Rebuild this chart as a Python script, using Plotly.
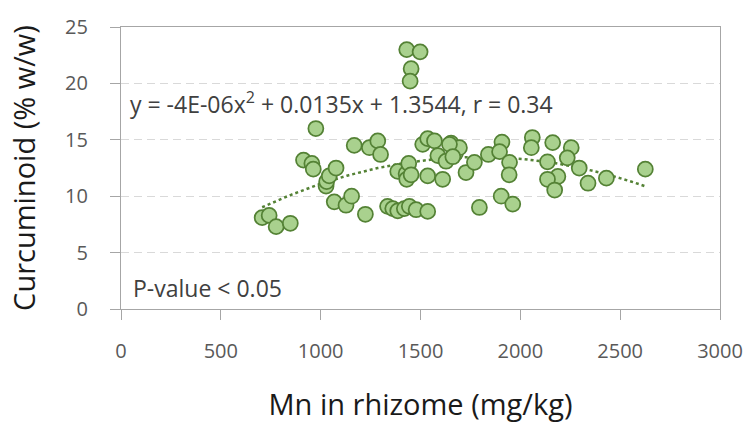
import numpy as np
import plotly.graph_objects as go

# Mn content in rhizome (mg/kg) and curcuminoid content (% w/w)
mn_rhizome = [707, 742, 777, 848, 914, 956, 963, 976, 1027, 1030, 1043, 1077, 1068,
              1127, 1155, 1168, 1224, 1244, 1286, 1300, 1335, 1361, 1386, 1419, 1444,
              1478, 1536, 1386, 1428, 1441, 1431, 1453, 1536, 1611, 1431, 1498, 1453,
              1448, 1511, 1536, 1570, 1587, 1628, 1653, 1675, 1695, 1728, 1770, 1795,
              1840, 1908, 1896, 1946, 1944, 1904, 1962, 2060, 2055, 2162, 2255, 2235,
              2136, 2295, 2188, 2136, 2172, 2339, 2431, 2626, 1645, 1662]
curcuminoid = [8.1, 8.3, 7.3, 7.6, 13.2, 12.9, 12.4, 16.0, 10.9, 11.3, 11.8, 12.5, 9.5,
               9.2, 10.0, 14.5, 8.4, 14.3, 14.9, 13.7, 9.1, 8.9, 8.7, 8.9, 9.1,
               8.8, 8.65, 12.2, 12.0, 12.9, 11.5, 11.9, 11.8, 11.5, 23.0, 22.8, 21.3,
               20.2, 14.6, 15.1, 14.9, 13.6, 13.1, 14.7, 13.8, 14.3, 12.1, 13.0, 9.0,
               13.7, 14.8, 13.95, 13.0, 11.9, 10.0, 9.3, 15.2, 14.3, 14.75, 14.3, 13.4,
               13.05, 12.5, 11.75, 11.5, 10.55, 11.15, 11.6, 12.4, 14.6, 13.5]

# Polynomial (order 2) trendline coefficients and correlation
trend_a = -3.76e-06
trend_b = 0.0135
trend_c = 1.3544
r_value = 0.34

x_ticks = [0, 500, 1000, 1500, 2000, 2500, 3000]
y_ticks = [0, 5, 10, 15, 20, 25]

FONT = "Open Sans"
fill_green = "#A9D18E"
edge_green = "#548235"
axis_gray = "#A6A6A6"

x_fit = np.linspace(min(mn_rhizome), max(mn_rhizome), 200)
y_fit = trend_a * x_fit ** 2 + trend_b * x_fit + trend_c

fig = go.Figure()
fig.add_trace(go.Scatter(
    x=x_fit, y=y_fit, mode="lines",
    line=dict(color=edge_green, width=2.5, dash="dot"),
    hoverinfo="skip", showlegend=False,
))
fig.add_trace(go.Scatter(
    x=mn_rhizome, y=curcuminoid, mode="markers",
    marker=dict(size=15, color=fill_green, line=dict(color=edge_green, width=1.75)),
    showlegend=False,
))

eq_text = (f"y = {trend_a:.0E}x<sup>2</sup> + {trend_b:.4f}x + {trend_c:.4f}, "
           f"r = {r_value:.2f}")

fig.add_annotation(
    x=0.012, y=18.3, xref="paper", yref="y", yanchor="middle", xanchor="left",
    text=eq_text, showarrow=False,
    font=dict(family=FONT, size=23, color="#404040"),
)
fig.add_annotation(
    x=0.016, y=1.86, xref="paper", yref="y", yanchor="middle", xanchor="left",
    text="P-value < 0.05", showarrow=False,
    font=dict(family=FONT, size=23, color="#404040"),
)

fig.update_layout(
    width=749, height=423,
    margin=dict(l=121, r=29, t=27, b=114),
    paper_bgcolor="white", plot_bgcolor="white",
    font=dict(family=FONT, color="#595959"),
)
fig.update_xaxes(
    range=[0, 3000], tickvals=x_ticks, ticks="outside", ticklen=10,
    tickcolor=axis_gray, showline=True, linecolor=axis_gray, linewidth=1.3,
    mirror=True, showgrid=False, zeroline=False, automargin=False,
    tickfont=dict(family=FONT, size=20, color="#595959"),
    ticklabelstandoff=14,
    title=dict(text="Mn in rhizome (mg/kg)", standoff=32,
               font=dict(family=FONT, size=29, color="#1a1a1a")),
)
fig.update_yaxes(
    range=[0, 25], tickvals=y_ticks, ticks="outside", ticklen=10,
    tickcolor=axis_gray, showline=True, linecolor=axis_gray, linewidth=1.3,
    mirror=True, showgrid=True, gridcolor="#D9D9D9", griddash="8px,5px", gridwidth=1.3,
    zeroline=False, automargin=False,
    tickfont=dict(family=FONT, size=20, color="#595959"),
    ticklabelstandoff=18,
    title=dict(text="Curcuminoid (% w/w)", standoff=20,
               font=dict(family=FONT, size=29, color="#1a1a1a")),
)

fig.write_html("out.html")
